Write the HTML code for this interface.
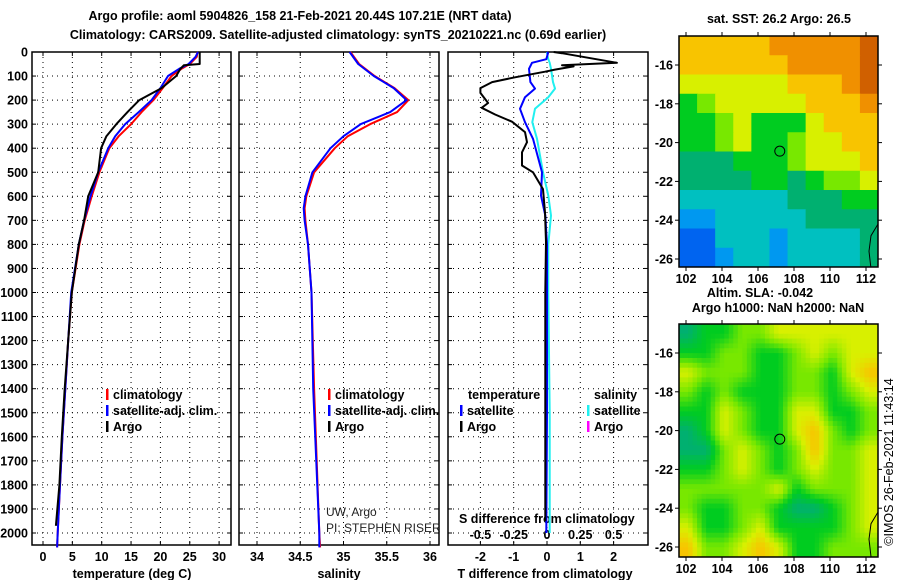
<!DOCTYPE html>
<html><head><meta charset="utf-8"><style>
html,body{margin:0;padding:0;background:#fff;}
svg{display:block;font-family:"Liberation Sans",sans-serif;}
.b{font-weight:bold;font-size:12.5px;}
</style></head><body>
<svg id="fig" width="900" height="580" viewBox="0 0 900 580">
<defs>
<clipPath id="c1"><rect x="679" y="36" width="199" height="231"/></clipPath>
<clipPath id="c2"><rect x="679" y="324" width="199" height="233"/></clipPath></defs>
<text x="300" y="20" text-anchor="middle" class="b" font-size="13.5">Argo profile: aoml 5904826_158 21-Feb-2021 20.44S 107.21E (NRT data)</text>
<text x="338" y="39" text-anchor="middle" class="b" font-size="13.5">Climatology: CARS2009. Satellite-adjusted climatology: synTS_20210221.nc (0.69d earlier)</text>
<g id="g"></g>
</svg>
<script>
// ---- data ----
const depthTicks=[0,100,200,300,400,500,600,700,800,900,1000,1100,1200,1300,1400,1500,1600,1700,1800,1900,2000];
const tempTicks=[0,5,10,15,20,25,30];
const salTicks=[34,34.5,35,35.5,36];
const tdTicks=[-2,-1,0,1,2];
const sdTickLabels=["-0.5","-0.25","0","0.25","0.5"];
const sdTicks=[-0.5,-0.25,0,0.25,0.5];
const tDepth=[0,20,50,70,100,150,200,250,300,350,400,500,600,700,800,1000,1200,1400,1600,1800,2000,2060];
const tClim=[26.3,26.2,25.0,23.6,21.9,20.4,18.8,16.8,15.0,12.9,11.3,9.6,8.3,7.1,6.2,4.9,4.3,3.8,3.3,2.9,2.5,2.4];
const tSat=[26.4,26.0,24.8,23.2,21.3,20.0,18.5,16.3,14.0,12.3,11.1,9.4,8.1,7.0,6.1,4.8,4.3,3.8,3.3,2.9,2.5,2.4];
const tDepthArgo=[0,50,55,70,100,150,200,250,300,350,400,500,600,700,800,1000,1200,1400,1600,1800,1970];
const tArgo=[26.7,26.7,24.0,23.4,22.7,20.2,16.4,14.4,12.5,10.8,9.9,9.4,7.7,7.0,6.1,4.9,4.3,3.7,3.2,2.8,2.2];
const sDepth=[0,50,100,150,200,250,300,350,400,500,600,650,700,800,1000,1400,2000,2060];
const sClim=[35.08,35.18,35.36,35.59,35.75,35.62,35.31,35.05,34.90,34.66,34.57,34.55,34.56,34.59,34.63,34.66,34.72,34.73];
const sSat=[35.07,35.17,35.35,35.58,35.73,35.54,35.20,35.00,34.85,34.64,34.56,34.54,34.55,34.59,34.63,34.65,34.72,34.72];
const dDepthA=[0,5,45,55,60,73,82,105,125,150,170,212,232,260,290,333,375,417,472,500,570,667,790,1000,1500,1950];
const dTArgo=[0.2,0.45,2.1,0.45,0.8,0.24,-0.06,-0.96,-1.65,-2.0,-2.0,-1.77,-1.96,-1.56,-1.05,-0.66,-0.6,-0.75,-0.75,-0.42,-0.12,-0.06,-0.03,-0.05,-0.05,-0.05];
const dDepth=[0,5,30,45,70,125,152,188,236,292,361,500,597,680,800,1000,1500,2000];
const dTSat=[0.0,0.03,-0.02,-0.45,-0.54,-0.5,-0.36,-0.66,-0.81,-0.66,-0.42,-0.15,-0.18,-0.05,0.0,0.0,0.0,-0.02];
const dSSat=[0.0,0.0,0.01,0.02,0.03,0.045,0.06,0.01,-0.09,-0.11,-0.075,-0.03,0.01,0.03,0.01,0.01,0.02,0.02];
const lonTicks=[102,104,106,108,110,112];
const latTicks=[-16,-18,-20,-22,-24,-26];
const sstGrid=[
[8,8,8,8,8,9,9,9,9,9,10],[8,8,8,8,8,8,9,9,9,9,10],[7,7,7,7,7,7,8,8,8,9,10],[5,6,7,7,7,7,7,8,8,8,9],
[5,5,6,7,5,5,5,7,8,8,8],[5,5,6,7,5,5,6,7,7,8,8],[4,4,4,5,5,5,6,7,7,7,8],[4,4,4,4,5,5,4,5,6,6,7],
[3,3,3,3,3,3,4,4,4,5,5],[2,2,3,3,3,3,3,4,4,4,4],[1,1,3,3,3,2,3,3,3,3,4],[1,1,2,3,3,2,3,3,3,3,4]];
const slaGrid=[
[4,5,5,6,6,7,7,7,7,7,7],[5,5,6,6,5,5,6,7,6,7,7],[7,6,6,6,5,5,6,6,5,7,8],[6,5,6,5,5,5,6,6,5,6,7],
[5,5,7,6,5,5,7,7,5,5,6],[4,5,7,6,5,5,7,8,6,5,6],[4,4,6,7,6,5,6,8,6,6,7],[5,5,6,7,6,5,6,7,6,6,7],
[6,6,6,6,6,7,5,6,6,6,7],[6,5,5,6,6,5,4,4,5,6,7],[7,5,5,6,7,5,5,5,5,6,7],[8,6,6,7,8,7,5,5,6,6,6]];
const cmap=["#0030d0","#0064f0","#0098f0","#00c0c0","#00b070","#00cc20","#78e800","#d8f000","#f8c400","#f09000","#d06000"];
const argoLon=107.21, argoLat=-20.44;

// ---- helpers ----
const NS="http://www.w3.org/2000/svg";
const G=document.getElementById('g');
function mk(t,a,p){const e=document.createElementNS(NS,t);for(const k in a)e.setAttribute(k,a[k]);(p||G).appendChild(e);return e;}
function txt(x,y,s,anc,extra){const e=mk('text',Object.assign({x:x,y:y,'text-anchor':anc||'start','class':'b'},extra||{}));e.textContent=s;return e;}
const Y=d=>52+d*0.2405;
const XT=t=>43+t*5.87, XS=s=>257+(s-34)*86.5, XD=d=>547+d*33.3, XDS=d=>547+d*133.2;
const panels=[[32,231],[239,439],[448,648]];
function line(xs,ds,fx,col,w,name){let p='';for(let i=0;i<xs.length;i++)p+=(i?'L':'M')+fx(xs[i]).toFixed(1)+' '+Y(ds[i]).toFixed(1);
 const e=mk('path',{d:p,fill:'none',stroke:col,'stroke-width':w,'stroke-linejoin':'round'});
 
 }
function hex(c){return [parseInt(c.substr(1,2),16),parseInt(c.substr(3,2),16),parseInt(c.substr(5,2),16)];}
function colorAt(v){v=Math.max(0,Math.min(10,v));const i=Math.min(9,Math.floor(v)),f=v-i;const a=hex(cmap[i]),b=hex(cmap[i+1]);
 return 'rgb('+a.map((x,k)=>Math.round(x+(b[k]-x)*f)).join(',')+')';}

// panels
panels.forEach((pp,i)=>{
 const [x0,x1]=pp;
 depthTicks.forEach(d=>{const e=mk('line',{x1:x0,x2:x1,y1:Y(d),y2:Y(d),stroke:'#000','stroke-dasharray':'1 4'});
  
  
  mk('line',{x1:x0,x2:x0+4,y1:Y(d),y2:Y(d),stroke:'#000'});mk('line',{x1:x1-4,x2:x1,y1:Y(d),y2:Y(d),stroke:'#000'});});
 const vt=i==0?tempTicks.map(XT):i==1?salTicks.map(XS):tdTicks.map(XD);
 vt.forEach(x=>{const e=mk('line',{x1:x,x2:x,y1:52,y2:545,stroke:'#000','stroke-dasharray':'1 4'});
  
  
  mk('line',{x1:x,x2:x,y1:545,y2:541,stroke:'#000'});mk('line',{x1:x,x2:x,y1:52,y2:56,stroke:'#000'});});
 const r=mk('rect',{x:x0,y:52,width:x1-x0,height:493,fill:'none',stroke:'#000','stroke-width':1.5});
 
 
});
depthTicks.forEach(d=>{const t=txt(28,Y(d)+4.5,String(d),'end');
 
 });
tempTicks.forEach(v=>{const t=txt(XT(v),561,String(v),'middle');
 
 });
salTicks.forEach(v=>{const t=txt(XS(v),561,String(v),'middle');
 
 });
tdTicks.forEach(v=>{const t=txt(XD(v),561,String(v),'middle');
 
 });
sdTicks.forEach((v,i)=>{const t=txt(XDS(v),539,sdTickLabels[i],'middle');
 
 });
let t;
t=txt(132,578,'temperature (deg C)','middle');
t=txt(339,578,'salinity','middle');
t=txt(545,578,'T difference from climatology','middle');
t=txt(459,523,'S difference from climatology');

// series
line(tClim,tDepth,XT,'#f00',2,'temp-climatology-line');
line(tSat,tDepth,XT,'#00f',2,'temp-satellite-line');
line(tArgo,tDepthArgo,XT,'#000',2,'temp-argo-line');
line(sClim,sDepth,XS,'#f00',2,'sal-climatology-line');
line(sSat,sDepth,XS,'#00f',2,'sal-satellite-line');
line(dSSat,dDepth,XDS,'#20f0f0',2,'sdiff-satellite-line');
line(dTSat,dDepth,XD,'#00f',2,'tdiff-satellite-line');
line(dTArgo,dDepthA,XD,'#000',2,'tdiff-argo-line');

// legends
function leg(x,y,col,label,name){const r=mk('rect',{x:x,y:y-10,width:2.5,height:11,fill:col});
 
 
 const tt=txt(x+7,y,label);
 
 }
leg(106,399,'#f00','climatology','legend-climatology');
leg(106,415,'#00f','satellite-adj. clim.','legend-satellite');
leg(106,431,'#000','Argo','legend-argo');
leg(328,399,'#f00','climatology','legend-climatology-2');
leg(328,415,'#00f','satellite-adj. clim.','legend-satellite-2');
leg(328,431,'#000','Argo','legend-argo-2');
t=txt(468,399,'temperature');
t=txt(594,399,'salinity');
leg(460,415,'#00f','satellite','legend-t-satellite');
leg(460,431,'#000','Argo','legend-t-argo');
leg(587,415,'#20f0f0','satellite','legend-s-satellite');
leg(587,431,'#f0f','Argo','legend-s-argo');
t=txt(326,516,'UW, Argo','start',{'class':'','font-size':'12','fill':'#222'});
t=txt(326,532,'PI: STEPHEN RISER','start',{'class':'','font-size':'12','fill':'#222'});

// maps
function sample(grid,fr,fc){const R=grid.length,C=grid[0].length;
 const r=Math.max(0,Math.min(R-1,fr)),c=Math.max(0,Math.min(C-1,fc));
 const r0=Math.floor(r),c0=Math.floor(c),r1=Math.min(R-1,r0+1),c1=Math.min(C-1,c0+1),a=r-r0,b=c-c0;
 return grid[r0][c0]*(1-a)*(1-b)+grid[r0][c1]*(1-a)*b+grid[r1][c0]*a*(1-b)+grid[r1][c1]*a*b;}
function map(top,bottom,grid,clip,smooth,name){
 const x0=679,x1=878,lonX=l=>686+(l-102)*18;
 const latY=l=>top+29+(-16-l)*19.4;
 const gg=mk('g',{'clip-path':'url(#'+clip+')'});
 
 
 const rows=grid.length, cols=grid[0].length, cw=(x1-x0)/cols, ch=(bottom-top)/rows;
 if(!smooth){
  grid.forEach((row,r)=>row.forEach((v,c)=>{const e=mk('rect',{x:x0+c*cw,y:top+r*ch,width:cw+0.6,height:ch+0.6,fill:cmap[v]},gg);
   
   }));
 } else {
  const S=4;
  for(let r=0;r<rows*S;r++)for(let c=0;c<cols*S;c++){
   const v=sample(grid,(r+0.5)/S-0.5,(c+0.5)/S-0.5);
   const e=mk('rect',{x:x0+c*cw/S,y:top+r*ch/S,width:cw/S+0.5,height:ch/S+0.5,fill:colorAt(v)},gg);
   
   }
 }
 const cl=mk('path',{d:`M878 ${latY(-24.2)} L871 ${latY(-24.8)} L869 ${latY(-25.6)} L871 ${latY(-26.5)}`,fill:'none',stroke:'#000','stroke-width':1},gg);
 
 
 const c=mk('circle',{cx:lonX(argoLon),cy:latY(argoLat),r:5,fill:'none',stroke:'#000','stroke-width':1});
 
 
 const fr=mk('rect',{x:x0,y:top,width:x1-x0,height:bottom-top,fill:'none',stroke:'#000','stroke-width':1.5});
 
 
 lonTicks.forEach(l=>{mk('line',{x1:lonX(l),x2:lonX(l),y1:top,y2:top-4,stroke:'#000'});mk('line',{x1:lonX(l),x2:lonX(l),y1:bottom,y2:bottom+4,stroke:'#000'});
  const tt=txt(lonX(l),bottom+16,String(l),'middle');
  
  });
 latTicks.forEach(l=>{mk('line',{x1:x0,x2:x0-4,y1:latY(l),y2:latY(l),stroke:'#000'});mk('line',{x1:x1,x2:x1+4,y1:latY(l),y2:latY(l),stroke:'#000'});
  const tt=txt(673,latY(l)+4.5,String(l),'end');
  
  });
}
map(36,267,sstGrid,'c1',false,'sst-map');
map(324,557,slaGrid,'c2',true,'sla-map');
t=txt(779,23,'sat. SST: 26.2 Argo: 26.5','middle');
t=txt(760,297,'Altim. SLA: -0.042','middle');
t=txt(778,312,'Argo h1000: NaN h2000: NaN','middle');
t=txt(0,0,'©IMOS 26-Feb-2021 11:43:14','middle',{'class':'','font-size':'12.5',transform:'translate(893,462) rotate(-90)'});

</script>
</body></html>
